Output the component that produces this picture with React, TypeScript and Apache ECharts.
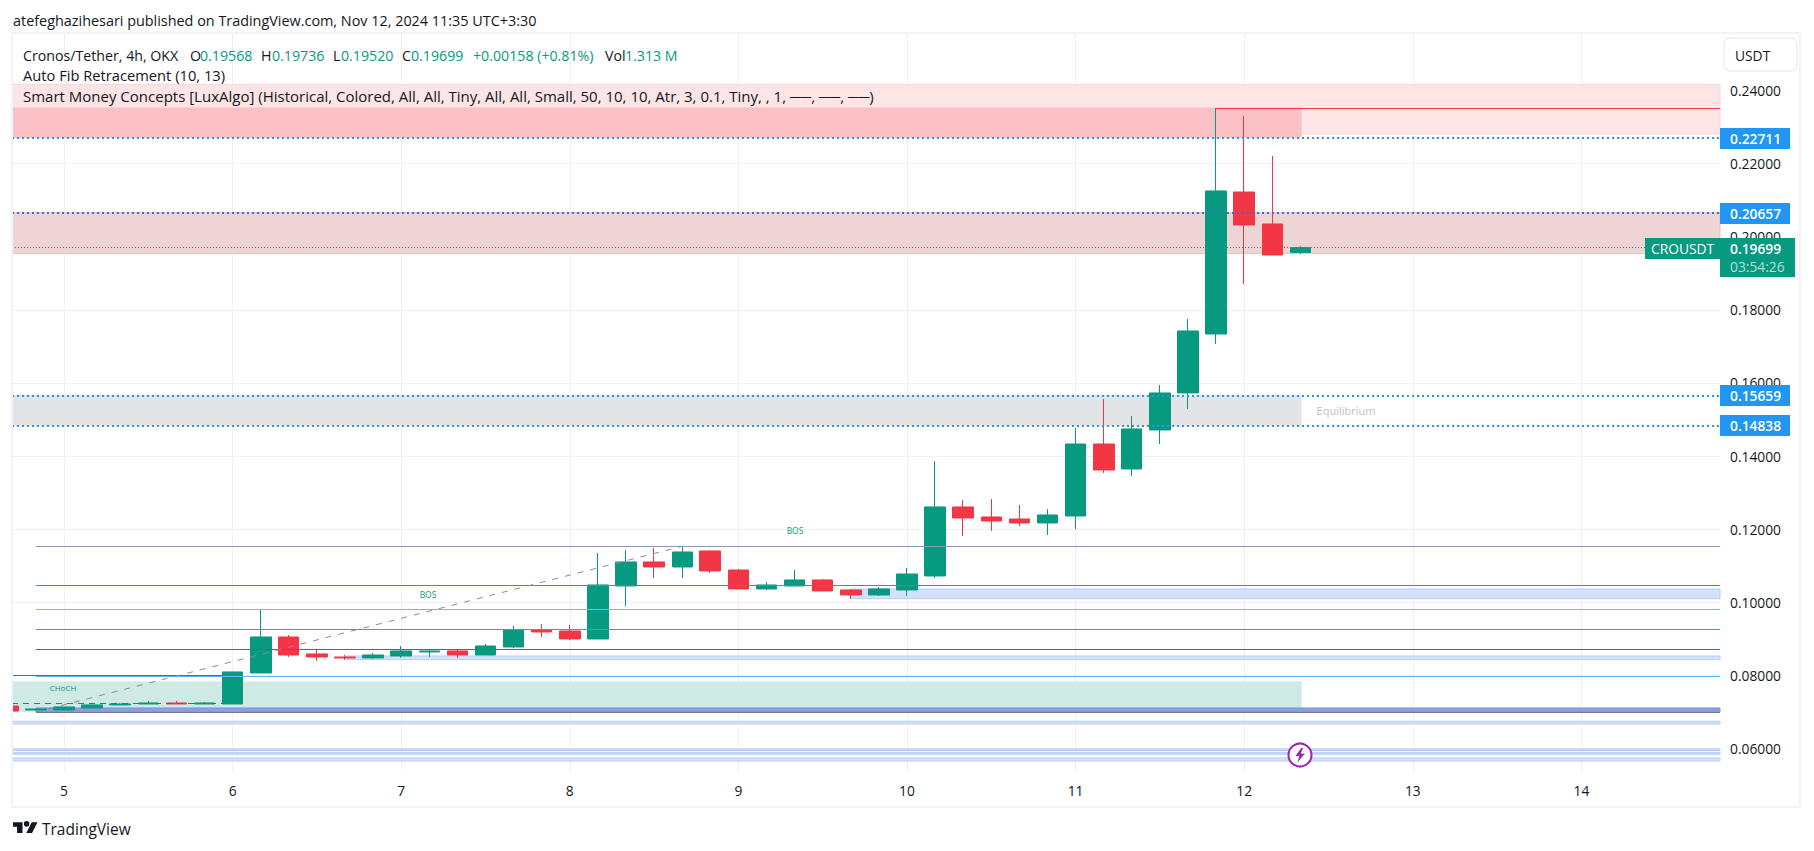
import React, { useEffect, useRef } from "react";
import * as echarts from "echarts";

const FONT = "'Open Sans', 'Noto Sans', sans-serif";
const UP = "#089981";
const DOWN = "#f23645";
const GRID = "#f0f0f3";

const barDays = [4.667,4.833,5,5.167,5.333,5.5,5.667,5.833,6,6.167,6.333,6.5,6.667,6.833,7,7.167,7.333,7.5,7.667,7.833,8,8.167,8.333,8.5,8.667,8.833,9,9.167,9.333,9.5,9.667,9.833,10,10.167,10.333,10.5,10.667,10.833,11,11.167,11.333,11.5,11.667,11.833,12,12.167,12.333];
const opens = [.07169,.0706,.0706,.07115,.07197,.07224,.07251,.07224,.07224,.08071,.09055,.08591,.08508,.08481,.08536,.08646,.08673,.08563,.08782,.09247,.09219,.09001,.10449,.11106,.10969,.11406,.10887,.10368,.10449,.10614,.1034,.10203,.1034,.10723,.12609,.12336,.12281,.12172,.12363,.14331,.13648,.14714,.15726,.17338,.2122,.20345,.19568];
const closes = [.07032,.07087,.07142,.07197,.07224,.07251,.07224,.07251,.08099,.09055,.08563,.08508,.08481,.08563,.08673,.08673,.08563,.08809,.09247,.09192,.09001,.10477,.11106,.10969,.11379,.1086,.10368,.10477,.10614,.10313,.10203,.10368,.10777,.12609,.12308,.12226,.12172,.1239,.14331,.13621,.14741,.15726,.1742,.21248,.20318,.19498,.19699];
const lows = [.07032,.0706,.0706,.07115,.07197,.07224,.07224,.07224,.07224,.08071,.08508,.08399,.08426,.08454,.08481,.08508,.08481,.08563,.08754,.09055,.08973,.09001,.09903,.10668,.10668,.10805,.10368,.1034,.10449,.10313,.10094,.10176,.10176,.10668,.11816,.11953,.1209,.11844,.12008,.13539,.13457,.14331,.15288,.17065,.18705,.19498,.1952];
const highs = [.07169,.07087,.07142,.07197,.0724,.07306,.07306,.07279,.08099,.09821,.0911,.087,.08563,.08618,.08809,.087,.08727,.08864,.09356,.09411,.09383,.11351,.11434,.11488,.11543,.11434,.10914,.10559,.10887,.10641,.10368,.10422,.10942,.13867,.128,.12828,.12664,.12554,.14769,.15562,.15097,.15944,.17748,.23517,.23298,.22204,.19736];

const dayTicks = [5,6,7,8,9,10,11,12,13,14];
const priceTicks = [0.06,0.08,0.1,0.12,0.14,0.16,0.18,0.2,0.22,0.24];
const X_MIN = 4.6916, X_MAX = 14.822, Y_MIN = 0.05364, Y_MAX = 0.25539;
const ZONE_END = 12.337;

// [fromDay, toDay, upper price, lower price, fill, border]
const zones: [number, number, number, number, string, string][] = [
  [X_MIN, X_MAX, .24164, .22806, "#fde4e5", "#fbd5d7"],
  [X_MIN, ZONE_END, .23517, .22711, "#fac0c6", "#fac0c6"],
  [X_MIN, X_MAX, .20657, .1954, "#efd4d6", "#efc0c4"],
  [X_MIN, ZONE_END, .15659, .14838, "#e3e4e5", "#e3e4e5"],
  [X_MIN, ZONE_END, .07826, .07013, "#cfeae4", "#cfeae4"],
  [4.834, X_MAX, .07115, .07005, "#8aa0e0", "#7b94dc"],
  [6.673, X_MAX, .08536, .08435, "#d3e2fc", "#b7cdf8"],
  [9.667, X_MAX, .10368, .10103, "#d3e2fc", "#b7cdf8"],
  [X_MIN, X_MAX, .06751, .06677, "#d3e2fc", "#b7cdf8"],
  [X_MIN, X_MAX, .05993, .0595, "#c9dafb", "#b7cdf8"],
  [X_MIN, X_MAX, .05901, .05849, "#c9dafb", "#b7cdf8"],
  [X_MIN, X_MAX, .05748, .05666, "#d3e2fc", "#b7cdf8"],
];

// [fromDay, toDay, price, colour, dash, width]
const levels: [number, number, number, string, any, number][] = [
  [4.834, X_MAX, .11535, "#8a97be", "solid", 1],
  [4.834, X_MAX, .10469, "#ef4a3f", "solid", 1],
  [4.834, X_MAX, .09813, "#81c784", "solid", 1],
  [4.834, X_MAX, .09266, "#4caf50", "solid", 1],
  [4.834, X_MAX, .08719, "#1a8a6e", "solid", 1],
  [4.834, X_MAX, .07981, "#64b5f6", "solid", 1],
  [X_MIN, 5.95, .08015, "#1a8a6e", "solid", 1],
  [4.834, X_MAX, .07005, "#787b86", "solid", 1],
  [X_MIN, 5.95, .07251, "#1a8a6e", [6, 5], 1],
  [11.833, X_MAX, .23517, "#f23645", "solid", 1],
  [X_MIN, X_MAX, .22711, "#2196f3", [2, 3], 2],
  [X_MIN, X_MAX, .20657, "#3a6fc8", [2, 3], 2],
  [X_MIN, X_MAX, .15659, "#2196f3", [2, 3], 2],
  [X_MIN, X_MAX, .14838, "#2196f3", [2, 3], 2],
  [X_MIN, X_MAX, .19699, "#089981", [1, 2], 1],
];
const fibLine = { fromDay: 4.834, fromPrice: .07005, toDay: 8.667, toPrice: .11535 };

const legendTexts: [string, number, number, string, number][] = [
  ["Cronos/Tether, 4h, OKX", 23, 55, "#131722", 14.2],
  ["O", 190, 55, "#131722", 14.2], ["0.19568", 200, 55, UP, 14.2],
  ["H", 261, 55, "#131722", 14.2], ["0.19736", 272, 55, UP, 14.2],
  ["L", 333, 55, "#131722", 14.2], ["0.19520", 341, 55, UP, 14.2],
  ["C", 402, 55, "#131722", 14.2], ["0.19699", 411, 55, UP, 14.2],
  ["+0.00158 (+0.81%)", 473, 55, UP, 14.2],
  ["Vol", 605, 55, "#131722", 14.2], ["1.313 M", 625, 55, UP, 14.2],
  ["Auto Fib Retracement (10, 13)", 23, 75, "#131722", 14.7],
  ["Smart Money Concepts [LuxAlgo] (Historical, Colored, All, All, Tiny, All, All, Small, 50, 10, 10, Atr, 3, 0.1, Tiny, , 1, ──, ──, ──)", 23, 96, "#131722", 15],
];
const smallLabels: [string, number, number, string, number][] = [
  ["CHoCH", 63, 687, UP, 8],
  ["BOS", 428, 594, UP, 8.5],
  ["BOS", 795, 530, UP, 8.5],
  ["Equilibrium", 1346, 410, "#c0c2c8", 11],
];
const priceBoxes: [string, number, number][] = [["0.22711", 128, 21], ["0.20657", 203, 21], ["0.15659", 385, 21], ["0.14838", 415, 21]];

echarts.graphic.registerShape("tvlogo", echarts.graphic.extendPath("M14 6H0v6h6v9h8V6zM28 21h-8.5l8-15H36l-8 15zM24 8a4 4 0 1 1-8 0a4 4 0 1 1 8 0z", {}) as any);
echarts.graphic.registerShape("bolt", echarts.graphic.extendPath("M7 0L1 9h4L3 16l8-10H6.5L9 0z", {}) as any);

export default function App() {
  const ref = useRef<HTMLDivElement>(null);
  useEffect(() => {
    const chart = echarts.init(ref.current!, undefined, { renderer: "svg" });
    const text = (t: string, x: number, y: number, fill: string, fontSize = 14.2, extra: any = {}) => ({
      type: "text", x, y, z: 100, silent: true,
      style: { text: t, fill, fontSize, fontFamily: FONT, verticalAlign: "middle", align: "left", ...extra },
    });
    const graphics: any[] = [
      { type: "rect", z: 50, silent: true, shape: { x: 0, y: 690, width: 12, height: 30 }, style: { fill: "#ffffff" } },
      { type: "rect", z: 60, silent: true, shape: { x: 12, y: 33, width: 1788, height: 774 }, style: { fill: "none", stroke: "#f0f3fa", lineWidth: 2 } },
      text("atefeghazihesari published on TradingView.com, Nov 12, 2024 11:35 UTC+3:30", 13, 20, "#131722", 14.4),
      ...legendTexts.map(([t, x, y, c, s]) => text(t, x, y, c, s)),
      ...smallLabels.map(([t, x, y, c, s]) => text(t, x, y, c, s, { align: "center" })),
      { type: "rect", z: 100, shape: { x: 1724, y: 38, width: 73, height: 33, r: 6 }, style: { fill: "#fff", stroke: "#e0e3eb", lineWidth: 1 } },
      text("USDT", 1735, 55, "#131722", 13.8),
      ...priceBoxes.flatMap(([t, y, h]) => [
        { type: "rect", z: 100, shape: { x: 1720, y, width: 70, height: h }, style: { fill: "#2196f3" } },
        text(t, 1730, y + h / 2, "#ffffff", 13.8, { fontWeight: 600 }),
      ]),
      { type: "rect", z: 100, shape: { x: 1645, y: 238, width: 75, height: 21 }, style: { fill: UP } },
      text("CROUSDT", 1651, 248.5, "#ffffff", 13.8),
      { type: "rect", z: 100, shape: { x: 1720, y: 238, width: 75, height: 39 }, style: { fill: UP } },
      text("0.19699", 1730, 248.5, "#ffffff", 13.8, { fontWeight: 600 }),
      text("03:54:26", 1730, 266, "rgba(255,255,255,0.7)", 13.8),
      { type: "circle", z: 100, shape: { cx: 1300, cy: 755, r: 11.5 }, style: { fill: "#fff", stroke: "#9c27b0", lineWidth: 2 } },
      { type: "bolt", z: 101, x: 1294.5, y: 748, scaleX: 0.95, scaleY: 0.9, style: { fill: "#9c27b0" } },
      { type: "tvlogo", z: 100, x: 13, y: 818, scaleX: 0.68, scaleY: 0.72, style: { fill: "#131722" } },
      text("TradingView", 42, 829, "#131722", 15.5),
    ];
    chart.setOption({
      animation: false,
      backgroundColor: "#ffffff",
      grid: { left: 12, top: 34, width: 1708, height: 738 },
      xAxis: {
        type: "value", min: X_MIN, max: X_MAX,
        axisLine: { show: false },
        axisTick: { show: false, customValues: dayTicks },
        axisLabel: { customValues: dayTicks, color: "#131722", fontSize: 13.8, fontFamily: FONT, margin: 11, formatter: (v: number) => String(v) },
        splitLine: { show: true, lineStyle: { color: GRID, width: 1 } },
      },
      yAxis: {
        type: "value", position: "right", min: Y_MIN, max: Y_MAX, scale: true,
        axisLine: { show: false },
        axisTick: { show: false, customValues: priceTicks },
        axisLabel: { customValues: priceTicks, color: "#131722", fontSize: 13.8, fontFamily: FONT, margin: 10, formatter: (v: number) => v.toFixed(5) },
        splitLine: { show: true, lineStyle: { color: GRID, width: 1 } },
      },
      series: [
        {
          type: "line", data: [], z: 1, silent: true,
          markArea: {
            silent: true,
            data: zones.map(([x0, x1, top, bot, fill, border]) => [
              { coord: [x0, top], itemStyle: { color: fill, borderColor: border, borderWidth: 1 } },
              { coord: [x1, bot] },
            ]),
          },
        },
        {
          type: "line", data: [], z: 1, silent: true,
          markLine: {
            silent: true, symbol: "none", label: { show: false },
            data: [
              ...levels.map(([x0, x1, p, color, dash, w]) => [
                { coord: [x0, p], lineStyle: { color, type: dash, width: w } },
                { coord: [x1, p] },
              ]),
              [
                { coord: [fibLine.fromDay, fibLine.fromPrice], lineStyle: { color: "#8b8d96", type: [6, 7], width: 1 } },
                { coord: [fibLine.toDay, fibLine.toPrice] },
              ],
            ],
          },
        },
        {
          type: "candlestick", z: 3, barWidth: 21, silent: true, clip: true,
          itemStyle: { color: UP, color0: DOWN, borderColor: UP, borderColor0: DOWN, borderWidth: 1 },
          encode: { x: 0, y: [1, 2, 3, 4] },
          data: barDays.map((d, i) => [d, opens[i], closes[i], lows[i], highs[i]]),
        },
      ],
      graphic: { elements: graphics },
    });
    return () => chart.dispose();
  }, []);
  return <div ref={ref} style={{ position: "fixed", left: 0, top: 0, width: 1814, height: 851, background: "#fff" }} />;
}
